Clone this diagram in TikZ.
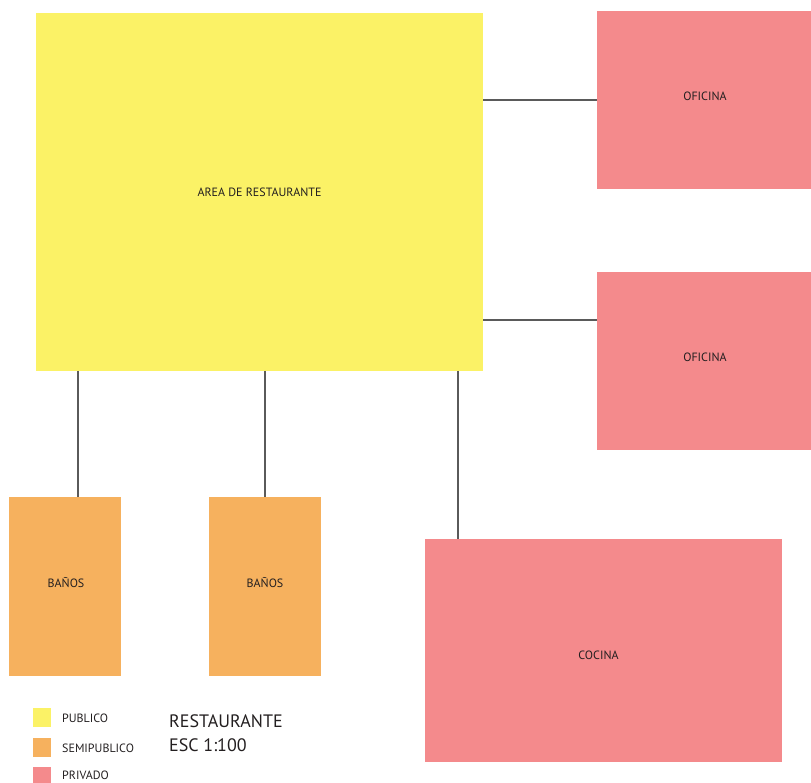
\documentclass[tikz,border=0pt]{standalone}
\usepackage{fontspec}
\setmainfont{PT Sans}
\definecolor{pubyel}{HTML}{FBF266}
\definecolor{semior}{HTML}{F6B15E}
\definecolor{privpk}{HTML}{F48A8C}
\definecolor{linegr}{HTML}{5A5A5A}
\definecolor{txtdk}{HTML}{231F20}
\begin{document}
\begin{tikzpicture}[x=1pt,y=-1pt,
  room/.style={anchor=north west,inner sep=0pt,outer sep=0pt,font=\fontsize{12}{14}\selectfont,text=txtdk},
  pub/.style={room,fill=pubyel},
  semi/.style={room,fill=semior},
  priv/.style={room,fill=privpk},
  link/.style={draw=linegr,line width=1.2pt},
  legsq/.style={anchor=north west,inner sep=0pt,minimum width=18pt,minimum height=19pt},
  legtxt/.style={anchor=west,inner sep=0pt,font=\fontsize{12}{14}\selectfont,text=txtdk},
  ttl/.style={anchor=west,inner sep=0pt,font=\fontsize{18}{20}\selectfont,text=txtdk}]
\useasboundingbox (0,0) rectangle (811,783);
\node[pub,minimum width=447pt,minimum height=358pt] (area) at (36,13) {AREA DE RESTAURANTE};
\node[priv,minimum width=216pt,minimum height=178pt] (of1) at (597,11) {\raisebox{8pt}{OFICINA}};
\node[priv,minimum width=216pt,minimum height=178pt] (of2) at (597,272) {\raisebox{8pt}{OFICINA}};
\node[priv,minimum width=357pt,minimum height=223pt] (coc) at (425,539) {\hspace*{-10pt}\raisebox{-18pt}{COCINA}};
\node[semi,minimum width=112pt,minimum height=179pt] (ba1) at (9,497) {\hspace*{2pt}\raisebox{8pt}{BAÑOS}};
\node[semi,minimum width=112pt,minimum height=179pt] (ba2) at (209,497) {\raisebox{8pt}{BAÑOS}};
\draw[link] (area.east |- of1.west) -- (of1.west);
\draw[link] (area.east |- 0,320) -- (of2.west |- 0,320);
\draw[link] (area.south -| 78,0) -- (ba1.north -| 78,0);
\draw[link] (area.south -| ba2.north) -- (ba2.north);
\draw[link] (area.south -| 458,0) -- (coc.north -| 458,0);
\node[legsq,fill=pubyel] (lg1) at (33,708) {};
\node[legsq,fill=semior] (lg2) at (33,738) {};
\node[legsq,fill=privpk] (lg3) at (33,767) {};
\node[legtxt] (lt1) at (62,718) {PUBLICO};
\node[legtxt] (lt2) at (62,748) {SEMIPUBLICO};
\node[legtxt] (lt3) at (62,775) {PRIVADO};
\node[ttl] (t1) at (169,721) {RESTAURANTE};
\node[ttl] (t2) at (169,745) {ESC 1:100};
\end{tikzpicture}
\end{document}
